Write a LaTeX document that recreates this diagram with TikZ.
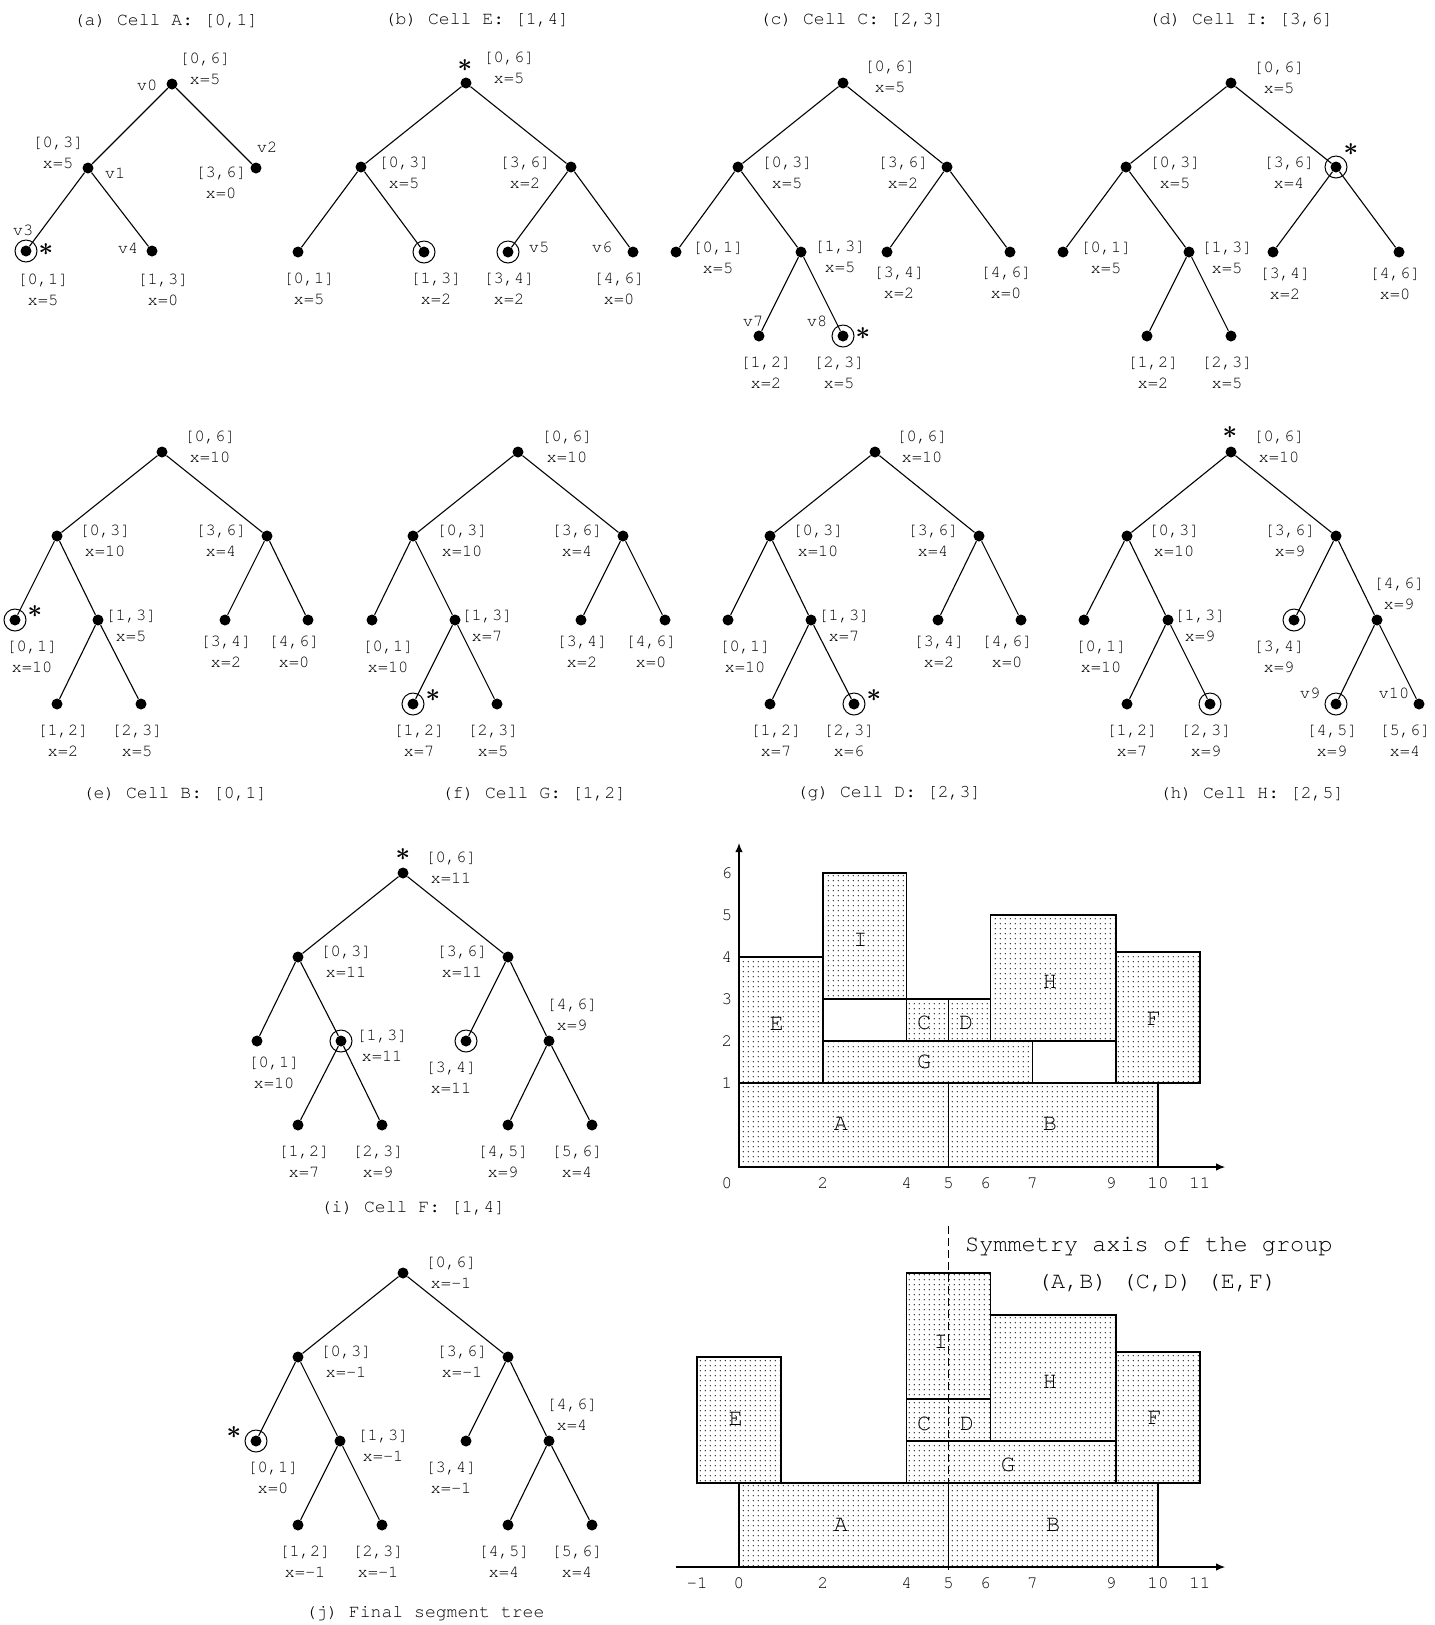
\documentclass[tikz,border=0pt]{standalone}
\usepackage{fontspec}
\newfontfamily\cour{TeX Gyre Cursor}
\usetikzlibrary{arrows.meta,patterns}
\pgfdeclarepatternformonly{fdots}{\pgfpointorigin}{\pgfpoint{0.95mm}{0.95mm}}{\pgfpoint{0.95mm}{0.95mm}}{%
  \pgfpathcircle{\pgfpoint{0.47mm}{0.47mm}}{0.13mm}\pgfusepath{fill}}
\newcommand\lblfont{\cour\fontsize{9.7}{11.95}\selectfont}
\newcommand\ttlfont{\cour\fontsize{10.3}{12}\selectfont}
\newcommand\cellfont{\cour\fontsize{13.4}{16}\selectfont}
\newcommand\numfont{\cour\fontsize{10}{12}\selectfont}
\tikzset{
  dot/.style={circle, fill=black, inner sep=0pt, minimum size=2.2mm},
  hit/.style={line width=0.2mm},
  twig/.style={line width=0.22mm},
  lbl/.style={font=\lblfont, align=center, inner sep=0pt},
  vtx/.style={font=\lblfont, inner sep=0pt},
  ttl/.style={font=\ttlfont, inner sep=0pt},
  astk/.style={font=\fontsize{15}{15}\selectfont\boldmath, inner sep=0pt},
  cell/.style={draw, line width=0.3mm, pattern=fdots},
  letter/.style={font=\cellfont, inner sep=0pt},
  num/.style={font=\numfont, inner sep=0pt},
  axis/.style={line width=0.22mm, -{Latex[length=1.8mm, width=1.5mm]}},
}
\begin{document}
\begin{tikzpicture}[x=0.2mm, y=-0.2mm]
\useasboundingbox (0,0) rectangle (1435,1625);

% (a) Cell A
\foreach \n/\x/\y in {a0/172/84, a1/88/168, a2/256/168, a3/26/251, a4/152/251}
  \node[dot] (\n) at (\x,\y) {};
\foreach \p/\c in {a0/a1, a0/a2, a1/a3, a1/a4}
  \draw[twig] (\p) -- (\c);
\foreach \n/\x/\y/\lo/\hi/\v in {a0l/205/69/0/6/5, a1l/58/153/0/3/5, a2l/221/183/3/6/0, a3l/43/290/0/1/5, a4l/163/290/1/3/0}
  \node[lbl] (\n) at (\x,\y) {[\lo,\hi]\\x=\v};
\foreach \n/\x/\y/\t in {a0v/147/85/v0, a1v/115/173/v1, a2v/267/147/v2, a3v/23/230/v3, a4v/128/248/v4}
  \node[vtx] (\n) at (\x,\y) {\t};
\draw[hit] (a3) circle (2.2mm);
\node[astk] (a3s) at (46,250) {$\ast$};
\node[ttl] (ta) at (166,21) {(a) Cell A: [0,1]};

% (b) Cell E
\foreach \n/\x/\y in {b0/466/83, b1/361/167, b2/571/167, b3/298/252, b4/424/252, b5/508/252, b6/633/252}
  \node[dot] (\n) at (\x,\y) {};
\foreach \p/\c in {b0/b1, b0/b2, b1/b3, b1/b4, b2/b5, b2/b6}
  \draw[twig] (\p) -- (\c);
\foreach \n/\x/\y/\lo/\hi/\v in {b0l/509/68/0/6/5, b1l/404/173/0/3/5, b2l/525/173/3/6/2, b3l/309/289/0/1/5, b4l/436/289/1/3/2, b5l/509/289/3/4/2, b6l/619/289/4/6/0}
  \node[lbl] (\n) at (\x,\y) {[\lo,\hi]\\x=\v};
\foreach \n/\x/\y/\t in {b5v/539/247/v5, b6v/602/247/v6}
  \node[vtx] (\n) at (\x,\y) {\t};
\foreach \n in {b4, b5}
  \draw[hit] (\n) circle (2.2mm);
\node[astk] (b0s) at (465,66) {$\ast$};
\node[ttl] (tb) at (477,20) {(b) Cell E: [1,4]};

% (c) Cell C
\foreach \n/\x/\y in {c0/843/83, c1/738/167, c2/947/167, c3/676/252, c4/801/252, c5/887/252, c6/1010/252, c7/759/336, c8/843/336}
  \node[dot] (\n) at (\x,\y) {};
\foreach \p/\c in {c0/c1, c0/c2, c1/c3, c1/c4, c2/c5, c2/c6, c4/c7, c4/c8}
  \draw[twig] (\p) -- (\c);
\foreach \n/\x/\y/\lo/\hi/\v in {c0l/890/77/0/6/5, c1l/787/173/0/3/5, c2l/903/173/3/6/2, c3l/718/258/0/1/5, c4l/840/257/1/3/5, c5l/899/283/3/4/2, c6l/1006/283/4/6/0, c7l/766/373/1/2/2, c8l/839/373/2/3/5}
  \node[lbl] (\n) at (\x,\y) {[\lo,\hi]\\x=\v};
\foreach \n/\x/\y/\t in {c7v/753/321/v7, c8v/817/321/v8}
  \node[vtx] (\n) at (\x,\y) {\t};
\draw[hit] (c8) circle (2.2mm);
\node[astk] (c8s) at (863,334) {$\ast$};
\node[ttl] (tc) at (852,20) {(c) Cell C: [2,3]};

% (d) Cell I
\foreach \n/\x/\y in {d0/1231/83, d1/1126/167, d2/1336/167, d3/1063/252, d4/1189/252, d5/1273/252, d6/1399/252, d7/1147/336, d8/1231/336}
  \node[dot] (\n) at (\x,\y) {};
\foreach \p/\c in {d0/d1, d0/d2, d1/d3, d1/d4, d2/d5, d2/d6, d4/d7, d4/d8}
  \draw[twig] (\p) -- (\c);
\foreach \n/\x/\y/\lo/\hi/\v in {d0l/1279/78/0/6/5, d1l/1175/173/0/3/5, d2l/1289/173/3/6/4, d3l/1106/258/0/1/5, d4l/1227/258/1/3/5, d5l/1285/284/3/4/2, d6l/1395/284/4/6/0, d7l/1153/373/1/2/2, d8l/1227/373/2/3/5}
  \node[lbl] (\n) at (\x,\y) {[\lo,\hi]\\x=\v};
\draw[hit] (d2) circle (2.2mm);
\node[astk] (d2s) at (1351,150) {$\ast$};
\node[ttl] (td) at (1241,20) {(d) Cell I: [3,6]};

% (e) Cell B
\foreach \n/\x/\y in {e0/162/452, e1/57/536, e2/267/536, e3/15/620, e4/98/620, e5/225/620, e6/308/620, e7/57/704, e8/141/704}
  \node[dot] (\n) at (\x,\y) {};
\foreach \p/\c in {e0/e1, e0/e2, e1/e3, e1/e4, e2/e5, e2/e6, e4/e7, e4/e8}
  \draw[twig] (\p) -- (\c);
\foreach \n/\x/\y/\lo/\hi/\v in {e0l/210/447/0/6/10, e1l/105/541/0/3/10, e2l/221/541/3/6/4, e3l/32/657/0/1/10, e4l/131/626/1/3/5, e5l/226/652/3/4/2, e6l/294/652/4/6/0, e7l/63/741/1/2/2, e8l/137/741/2/3/5}
  \node[lbl] (\n) at (\x,\y) {[\lo,\hi]\\x=\v};
\draw[hit] (e3) circle (2.2mm);
\node[astk] (e3s) at (35,612) {$\ast$};
\node[ttl] (te) at (175,794) {(e) Cell B: [0,1]};

% (f) Cell G
\foreach \n/\x/\y in {f0/518/452, f1/413/536, f2/623/536, f3/372/620, f4/455/620, f5/581/620, f6/665/620, f7/413/704, f8/497/704}
  \node[dot] (\n) at (\x,\y) {};
\foreach \p/\c in {f0/f1, f0/f2, f1/f3, f1/f4, f2/f5, f2/f6, f4/f7, f4/f8}
  \draw[twig] (\p) -- (\c);
\foreach \n/\x/\y/\lo/\hi/\v in {f0l/567/447/0/6/10, f1l/462/541/0/3/10, f2l/577/541/3/6/4, f3l/388/657/0/1/10, f4l/487/626/1/3/7, f5l/582/652/3/4/2, f6l/651/652/4/6/0, f7l/419/741/1/2/7, f8l/493/741/2/3/5}
  \node[lbl] (\n) at (\x,\y) {[\lo,\hi]\\x=\v};
\draw[hit] (f7) circle (2.2mm);
\node[astk] (f7s) at (433,696) {$\ast$};
\node[ttl] (tf) at (534,794) {(f) Cell G: [1,2]};

% (g) Cell D
\foreach \n/\x/\y in {g0/875/452, g1/770/536, g2/979/536, g3/728/620, g4/811/620, g5/938/620, g6/1021/620, g7/770/704, g8/854/704}
  \node[dot] (\n) at (\x,\y) {};
\foreach \p/\c in {g0/g1, g0/g2, g1/g3, g1/g4, g2/g5, g2/g6, g4/g7, g4/g8}
  \draw[twig] (\p) -- (\c);
\foreach \n/\x/\y/\lo/\hi/\v in {g0l/922/447/0/6/10, g1l/818/541/0/3/10, g2l/933/541/3/6/4, g3l/745/657/0/1/10, g4l/844/626/1/3/7, g5l/939/652/3/4/2, g6l/1007/652/4/6/0, g7l/776/741/1/2/7, g8l/849/741/2/3/6}
  \node[lbl] (\n) at (\x,\y) {[\lo,\hi]\\x=\v};
\draw[hit] (g8) circle (2.2mm);
\node[astk] (g8s) at (874,696) {$\ast$};
\node[ttl] (tg) at (889,794) {(g) Cell D: [2,3]};

% (h) Cell H
\foreach \n/\x/\y in {h0/1231/452, h1/1127/536, h2/1336/536, h3/1084/620, h4/1168/620, h5/1294/620, h6/1377/620, h7/1127/704, h8/1210/704, h9/1336/704, h10/1419/704}
  \node[dot] (\n) at (\x,\y) {};
\foreach \p/\c in {h0/h1, h0/h2, h1/h3, h1/h4, h2/h5, h2/h6, h4/h7, h4/h8, h6/h9, h6/h10}
  \draw[twig] (\p) -- (\c);
\foreach \n/\x/\y/\lo/\hi/\v in {h0l/1279/447/0/6/10, h1l/1174/541/0/3/10, h2l/1290/541/3/6/9, h3l/1101/657/0/1/10, h4l/1200/626/1/3/9, h5l/1279/657/3/4/9, h6l/1399/594/4/6/9, h7l/1132/741/1/2/7, h8l/1206/741/2/3/9, h9l/1332/741/4/5/9, h10l/1405/741/5/6/4}
  \node[lbl] (\n) at (\x,\y) {[\lo,\hi]\\x=\v};
\foreach \n/\x/\y/\t in {h9v/1310/693/v9, h10v/1394/693/v10}
  \node[vtx] (\n) at (\x,\y) {\t};
\foreach \n in {h5, h8, h9}
  \draw[hit] (\n) circle (2.2mm);
\node[astk] (h0s) at (1230,433) {$\ast$};
\node[ttl] (th) at (1252,794) {(h) Cell H: [2,5]};

% (i) Cell F
\foreach \n/\x/\y in {i0/403/873, i1/298/957, i2/508/957, i3/257/1041, i4/341/1041, i5/466/1041, i6/549/1041, i7/298/1125, i8/382/1125, i9/508/1125, i10/592/1125}
  \node[dot] (\n) at (\x,\y) {};
\foreach \p/\c in {i0/i1, i0/i2, i1/i3, i1/i4, i2/i5, i2/i6, i4/i7, i4/i8, i6/i9, i6/i10}
  \draw[twig] (\p) -- (\c);
\foreach \n/\x/\y/\lo/\hi/\v in {i0l/451/868/0/6/11, i1l/346/962/0/3/11, i2l/462/962/3/6/11, i3l/274/1073/0/1/10, i4l/382/1046/1/3/11, i5l/451/1078/3/4/11, i6l/572/1015/4/6/9, i7l/304/1162/1/2/7, i8l/378/1162/2/3/9, i9l/503/1162/4/5/9, i10l/577/1162/5/6/4}
  \node[lbl] (\n) at (\x,\y) {[\lo,\hi]\\x=\v};
\foreach \n in {i4, i5}
  \draw[hit] (\n) circle (2.2mm);
\node[astk] (i0s) at (403,855) {$\ast$};
\node[ttl] (ti) at (413,1208) {(i) Cell F: [1,4]};

% (j) Final segment tree
\foreach \n/\x/\y in {j0/403/1273, j1/298/1357, j2/508/1357, j3/256/1441, j4/340/1441, j5/466/1441, j6/549/1441, j7/298/1525, j8/382/1525, j9/508/1525, j10/592/1525}
  \node[dot] (\n) at (\x,\y) {};
\foreach \p/\c in {j0/j1, j0/j2, j1/j3, j1/j4, j2/j5, j2/j6, j4/j7, j4/j8, j6/j9, j6/j10}
  \draw[twig] (\p) -- (\c);
\foreach \n/\x/\y/\lo/\hi/\v in {j0l/451/1273/0/6/-1, j1l/346/1362/0/3/-1, j2l/462/1362/3/6/-1, j3l/273/1478/0/1/0, j4l/383/1446/1/3/-1, j5l/451/1478/3/4/-1, j6l/572/1415/4/6/4, j7l/305/1562/1/2/-1, j8l/378/1562/2/3/-1, j9l/504/1562/4/5/4, j10l/577/1562/5/6/4}
  \node[lbl] (\n) at (\x,\y) {[\lo,\hi]\\x=\v};
\draw[hit] (j3) circle (2.2mm);
\node[astk] (j3s) at (234,1433) {$\ast$};
\node[ttl] (tj) at (425,1614) {(j) Final segment tree};

% cells before folding
\begin{scope}[shift={(739,1167)}, x=8.38mm, y=8.4mm]
  \foreach \a/\b/\c/\d in {0/0/5/2, 5/0/10/2, 0/2/2/5, 2/4/4/7, 2/2/7/3, 4/3/5/4, 5/3/6/4, 6/3/9/6, 9/2/11/5.12}
    \draw[cell] (\a,\b) rectangle (\c,\d);
  \foreach \n/\x/\y in {A/2.43/1.03, B/7.42/1.03, E/0.9/3.42, I/2.9/5.42, G/4.42/2.5, C/4.42/3.43, D/5.42/3.43, H/7.42/4.42, F/9.9/3.52}
    \node[letter] (p\n) at (\x,\y) {\n};
  \coordinate (o1) at (0,0);
  \coordinate (x1) at (11.6,0);
  \coordinate (y1) at (0,7.71);
  \draw[axis] (o1) -- (x1);
  \draw[axis] (o1) -- (y1);
  \foreach \k in {1,...,6}
    \node[num] (py\k) at (-0.29,\k+1) {\k};
  \foreach \k/\p in {0/-0.29, 2/2, 4/4, 5/5, 6/5.88, 7/7, 9/8.88, 10/10, 11/11}
    \node[num] (px\k) at (\p,-0.38) {\k};
\end{scope}

% cells after folding round the axis
\begin{scope}[shift={(739,1567)}, x=8.38mm, y=8.4mm]
  \foreach \a/\b/\c/\d in {-1/2/1/5, 0/0/5/2, 5/0/10/2, 4/4/6/7, 4/3/6/4, 4/2/9/3, 6/3/9/6, 9/2/11/5.12}
    \draw[cell] (\a,\b) rectangle (\c,\d);
  \foreach \n/\x/\y in {A/2.43/1, B/7.5/1, E/-0.08/3.52, I/4.82/5.35, C/4.42/3.4, D/5.44/3.4, G/6.42/2.42, H/7.42/4.42, F/9.92/3.54}
    \node[letter] (q\n) at (\x,\y) {\n};
  \coordinate (o2) at (-1.5,0);
  \coordinate (x2) at (11.6,0);
  \draw[axis] (o2) -- (x2);
  \coordinate (s1) at (5,8.12);
  \coordinate (s2) at (5,-0.15);
  \draw[line width=0.22mm, dash pattern=on 1.6mm off 0.8mm] (s1) -- (s2);
  \node[letter, anchor=west] (sym) at (5.39,7.64) {Symmetry axis of the group};
  \node[letter] (grp) at (9.98,6.76) {(A,B) (C,D) (E,F)};
  \foreach \k/\p in {-1/-1, 0/0, 2/2, 4/4, 5/5, 6/5.88, 7/7, 9/8.88, 10/10, 11/11}
    \node[num] (qx\k) at (\p,-0.38) {\k};
\end{scope}
\end{tikzpicture}
\end{document}
